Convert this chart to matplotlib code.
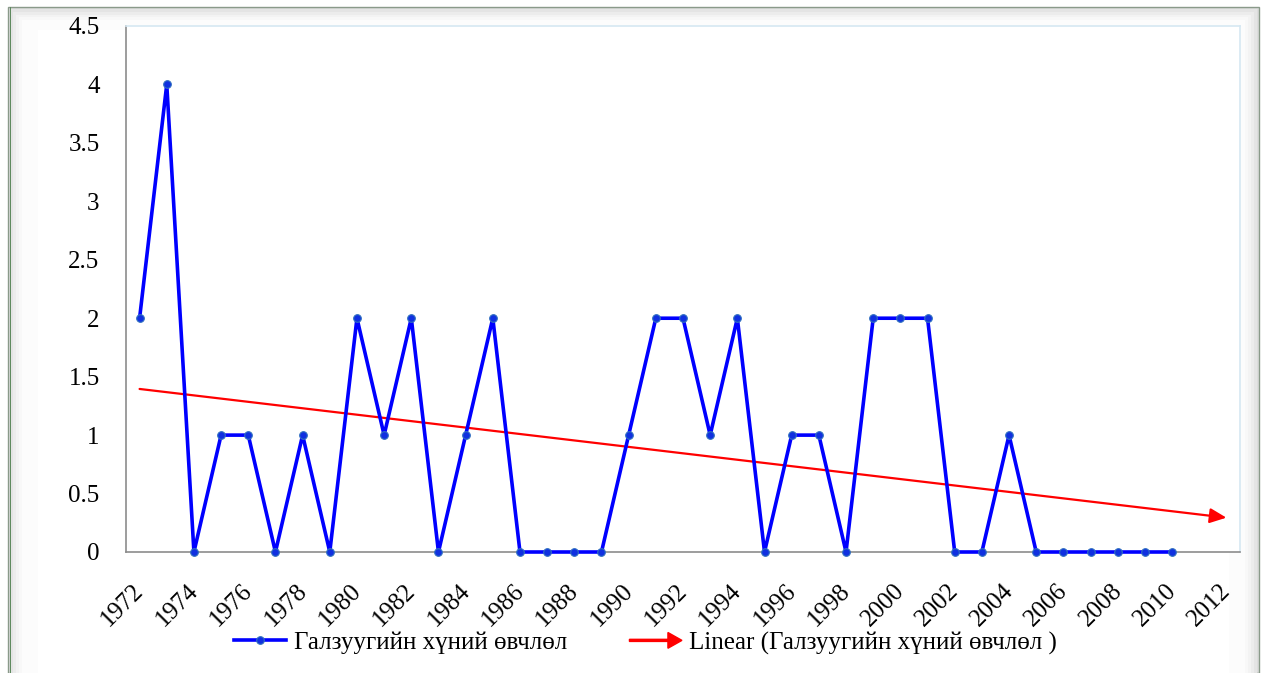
import numpy as np
import matplotlib.pyplot as plt
import matplotlib.patches as mpatches
import matplotlib.transforms as mtransforms
from matplotlib.legend_handler import HandlerPatch

plt.rcParams['font.family'] = ['Liberation Serif', 'DejaVu Serif']

# data
years = list(range(1972, 2011))
values = [2, 4, 0, 1, 1, 0, 1, 0, 2, 1, 2, 0, 1, 2, 0, 0, 0, 0, 1, 2,
          2, 1, 2, 0, 1, 1, 0, 2, 2, 2, 0, 0, 1, 0, 0, 0, 0, 0, 0]
tick_years = list(range(1972, 2013, 2))
series_label = 'Галзуугийн хүний өвчлөл'
trend_label = 'Linear (Галзуугийн хүний өвчлөл )'


def make_arrow(legend, orig_handle, xdescent, ydescent, width, height, fontsize):
    return mpatches.FancyArrow(-xdescent, height / 2 - ydescent, width, 0,
                               width=height * 0.12, head_width=height * 0.9,
                               head_length=height * 0.8, length_includes_head=True)


fig = plt.figure(figsize=(12.67, 6.73), dpi=100)


def frame_rect(xy, w, h, **kw):
    fig.patches.append(mpatches.Rectangle(xy, w, h, transform=fig.transFigure, zorder=-5, **kw))


# beveled outer frame
frame_rect((0.006, 0.0), 0.988, 0.99, facecolor='#dcdcdc', edgecolor='#8a9a8a', lw=1.0)
for i, c in enumerate(['#e4e4e4', '#ececec', '#f3f3f3', '#f8f8f8', '#fcfcfc']):
    d = 0.004 * (i + 1)
    frame_rect((0.006 + d * 0.55, 0.0), 0.988 - d * 1.1, 0.99 - d, facecolor=c, edgecolor='none')
frame_rect((0.03, 0.0), 0.94, 0.955, facecolor='white', edgecolor='none')
frame_rect((0.0075, 0.0), 0.0015, 0.99, facecolor='#5f8a5f', edgecolor='none')

ax = fig.add_axes([126 / 1267, 1 - 552 / 673, (1240 - 126) / 1267, (552 - 26) / 673])
ax.set_facecolor('white')
x = np.arange(len(years))
ax.plot(x, values, color='#0000ff', lw=2.6, marker='o', markersize=5.5,
        markerfacecolor='#1030e0', markeredgecolor='#3070c0', markeredgewidth=0.8,
        label=series_label, zorder=3, clip_on=False)

# linear trend, forecast forward to 2012
k, b = np.polyfit(x, values, 1)
x_end = tick_years[-1] - years[0]
ax.annotate('', xy=(x_end, k * x_end + b), xytext=(0, b),
            arrowprops=dict(arrowstyle='-|>,head_length=1.0,head_width=0.45',
                            color='#ff0000', lw=1.6, shrinkA=0, shrinkB=0), zorder=2)
trend_handle = mpatches.FancyArrow(0, 0, 1, 0, color='#ff0000', label=trend_label)

ax.set_xlim(-0.5, len(tick_years) * 2 - 1.5)
ax.set_ylim(0, 4.5)
ax.set_yticks(np.arange(0, 4.6, 0.5))
ax.set_yticklabels(['0', '0.5', '1', '1.5', '2', '2.5', '3', '3.5', '4', '4.5'])
ax.set_xticks([t - years[0] for t in tick_years])
ax.set_xticklabels([str(t) for t in tick_years], rotation=45, ha='right', va='top',
                   rotation_mode='anchor')
ax.tick_params(axis='both', length=0, labelsize=18, colors='black')
ax.tick_params(axis='y', pad=19)
ax.tick_params(axis='x', pad=20)
shift = mtransforms.ScaledTranslation(-0.07, 0, fig.dpi_scale_trans)
for lbl in ax.get_xticklabels():
    lbl.set_transform(lbl.get_transform() + shift)

for side in ['top', 'right']:
    ax.spines[side].set_color('#d6e8f2')
    ax.spines[side].set_linewidth(1.2)
for side in ['left', 'bottom']:
    ax.spines[side].set_color('#8c8c8c')
    ax.spines[side].set_linewidth(1.2)

handles = [ax.lines[0], trend_handle]
fig.legend(handles=handles, labels=[series_label, trend_label], loc='center',
           bbox_to_anchor=(0.5 + 12 / 1267, 1 - 643 / 673), ncol=2, frameon=False, fontsize=18,
           handlelength=2.1, handletextpad=0.3, columnspacing=2.5,
           handler_map={mpatches.FancyArrow: HandlerPatch(patch_func=make_arrow)})

fig.savefig('out.png', dpi=100)
